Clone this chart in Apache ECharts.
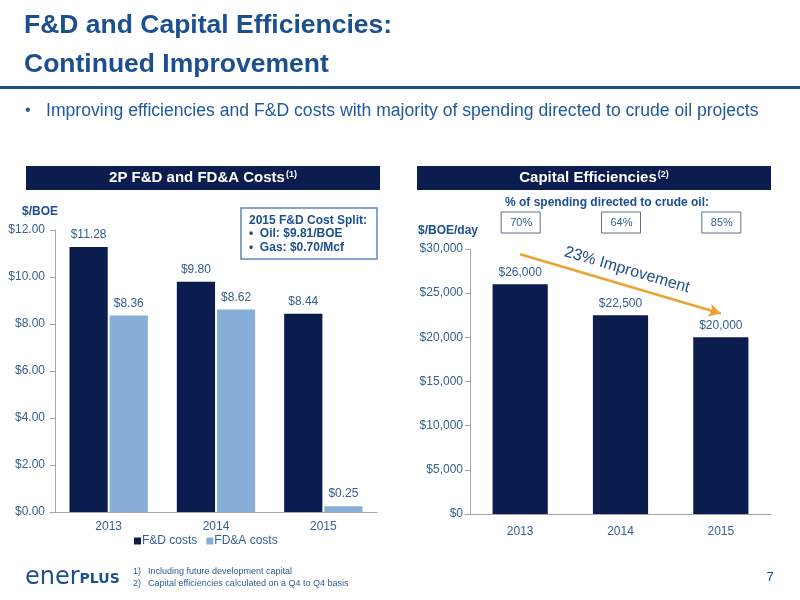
<!DOCTYPE html>
<html>
<head>
<meta charset="utf-8">
<script src="https://cdn.jsdelivr.net/npm/echarts@6/dist/echarts.min.js"></script>
<style>
html,body{margin:0;padding:0;background:#fff;}
#c{width:800px;height:600px;}
</style>
</head>
<body>
<div id="c"></div>
<script>
// ---- data ----
const years = ['2013', '2014', '2015'];
const fdCosts = [11.28, 9.80, 8.44];
const fdaCosts = [8.36, 8.62, 0.25];
const capEfficiency = [26000, 22500, 20000];
const oilShare = ['70%', '64%', '85%'];
const costAxis = { min: 0, max: 12, interval: 2 };
const capAxis = { min: 0, max: 30000, interval: 5000 };
const arrowFrom = 29400, arrowTo = 22700;

const NAVY = '#0b1d4f', LIGHT = '#86aed6', BLUE = '#1c4f8f', LBL = '#33608f', AXIS = '#a6a6a6';
const FONT = '"Liberation Sans", Arial, sans-serif';

const chart = echarts.init(document.getElementById('c'), null, { renderer: 'canvas' });

function txt(x, y, text, size, color, opts) {
  opts = opts || {};
  return {
    type: 'text', x: x, y: y, rotation: opts.rotation || 0, silent: true,
    style: {
      text: text, fill: color, textAlign: opts.align || 'left', textVerticalAlign: 'middle',
      font: (opts.bold ? 'bold ' : '') + size + 'px ' + (opts.family || FONT),
      rich: opts.rich
    }
  };
}

const option = {
  animation: false,
  textStyle: { fontFamily: FONT },
  grid: [
    { left: 55, top: 230, width: 322, bottom: 88 },
    { left: 470, top: 249, width: 301, bottom: 86 }
  ],
  legend: {
    data: ['F&D costs', 'FD&A costs'], left: 129, top: 530, icon: 'rect',
    itemWidth: 7, itemHeight: 7, itemGap: 9,
    textStyle: { color: LBL, fontSize: 12, padding: [0, 0, 0, -4] }
  },
  xAxis: [
    {
      type: 'category', gridIndex: 0, data: years,
      axisLine: { lineStyle: { color: AXIS } }, axisTick: { lineStyle: { color: AXIS }, length: 5 },
      axisLabel: { color: LBL, fontSize: 12, margin: 9 }
    },
    {
      type: 'category', gridIndex: 1, data: years,
      axisLine: { lineStyle: { color: AXIS } }, axisTick: { lineStyle: { color: AXIS }, length: 5 },
      axisLabel: { color: LBL, fontSize: 12, margin: 12 }
    }
  ],
  yAxis: [
    {
      type: 'value', gridIndex: 0, min: costAxis.min, max: costAxis.max, interval: costAxis.interval,
      axisLine: { show: true, lineStyle: { color: AXIS } },
      axisTick: { show: true, length: 5, lineStyle: { color: AXIS } },
      splitLine: { show: false },
      axisLabel: { color: LBL, fontSize: 12, margin: 10, formatter: v => '$' + v.toFixed(2) }
    },
    {
      type: 'value', gridIndex: 1, min: capAxis.min, max: capAxis.max, interval: capAxis.interval,
      axisLine: { show: true, lineStyle: { color: AXIS } },
      axisTick: { show: true, length: 5, lineStyle: { color: AXIS } },
      splitLine: { show: false },
      axisLabel: { color: LBL, fontSize: 12, margin: 7, formatter: v => '$' + v.toLocaleString('en-US') }
    }
  ],
  series: [
    {
      name: 'F&D costs', type: 'bar', xAxisIndex: 0, yAxisIndex: 0, data: fdCosts,
      itemStyle: { color: NAVY }, barGap: '5%', barCategoryGap: '27%',
      label: { show: true, position: 'top', color: LBL, fontSize: 12, distance: 6, formatter: p => '$' + p.value.toFixed(2) }
    },
    {
      name: 'FD&A costs', type: 'bar', xAxisIndex: 0, yAxisIndex: 0, data: fdaCosts,
      itemStyle: { color: LIGHT }, barGap: '5%', barCategoryGap: '27%',
      label: { show: true, position: 'top', color: LBL, fontSize: 12, distance: 6, formatter: p => '$' + p.value.toFixed(2) }
    },
    {
      name: 'Capital Efficiencies', type: 'bar', xAxisIndex: 1, yAxisIndex: 1, data: capEfficiency,
      itemStyle: { color: NAVY }, barCategoryGap: '45%',
      label: { show: true, position: 'top', color: LBL, fontSize: 12, distance: 6, formatter: p => '$' + p.value.toLocaleString('en-US') },
      markLine: {
        silent: true, symbol: ['none', 'arrow'], symbolSize: [10, 12],
        lineStyle: { color: '#eaa232', width: 2.5, type: 'solid' },
        label: { show: false },
        data: [[{ coord: [years[0], arrowFrom] }, { coord: [years[2], arrowTo] }]]
      }
    }
  ]
};
chart.setOption(option);

// ---- annotations ----
const g = [];
g.push(txt(24, 26, 'F&D and Capital Efficiencies:', 26.5, BLUE, { bold: true }));
g.push(txt(24, 65, 'Continued Improvement', 26.5, BLUE, { bold: true }));
g.push({ type: 'rect', shape: { x: 0, y: 86, width: 800, height: 3 }, style: { fill: '#1f4e8c' }, silent: true });
g.push(txt(25, 111, '•', 16, '#1f5aa0'));
g.push(txt(46, 111, 'Improving efficiencies and F&D costs with majority of spending directed to crude oil projects', 17.6, '#1f5aa0'));

// headers
g.push({ type: 'rect', shape: { x: 26, y: 166, width: 354, height: 24 }, style: { fill: NAVY }, silent: true });
g.push({ type: 'rect', shape: { x: 417, y: 166, width: 354, height: 24 }, style: { fill: NAVY }, silent: true });
const supRich = {
  h: { fontSize: 15, fontWeight: 'bold', color: '#fff', fontFamily: FONT },
  s: { fontSize: 9, fontWeight: 'bold', color: '#fff', fontFamily: FONT, verticalAlign: 'top', padding: [0, 0, 6, 1] }
};
g.push(txt(203, 178, '{h|2P F&D and FD&A Costs}{s|(1)}', 15, '#fff', { bold: true, align: 'center', rich: supRich }));
g.push(txt(594, 178, '{h|Capital Efficiencies}{s|(2)}', 15, '#fff', { bold: true, align: 'center', rich: supRich }));

// axis names
g.push(txt(22, 212, '$/BOE', 12, BLUE, { bold: true }));
g.push(txt(418, 231, '$/BOE/day', 12, BLUE, { bold: true }));

// text box
g.push({ type: 'rect', shape: { x: 241, y: 208, width: 136, height: 51 }, style: { fill: '#fff', stroke: '#5b86bd', lineWidth: 1.5 }, silent: true });
g.push(txt(249, 221, '2015 F&D Cost Split:', 12, BLUE, { bold: true }));
g.push(txt(249, 234, '•  Oil: $9.81/BOE', 12, BLUE, { bold: true }));
g.push(txt(249, 248, '•  Gas: $0.70/Mcf', 12, BLUE, { bold: true }));

// % of spending
g.push(txt(607, 203, '% of spending directed to crude oil:', 12, BLUE, { bold: true, align: 'center' }));
years.forEach((y, i) => {
  const px = chart.convertToPixel({ xAxisIndex: 1 }, y);
  g.push({ type: 'rect', shape: { x: px - 19, y: 212, width: 39, height: 21 }, style: { fill: '#fff', stroke: '#5a6f8f', lineWidth: 1 }, silent: true });
  g.push(txt(px + 1, 223, oilShare[i], 11, LBL, { align: 'center' }));
});

// improvement text
g.push(txt(627, 270, '23% Improvement', 16, BLUE, { align: 'center', rotation: -0.285 }));

// footer
g.push(txt(25, 578, '{a|ener}{b|PLUS}', 20, BLUE, {
  rich: {
    a: { fontSize: 24, color: '#1f4e8c', fontFamily: '"DejaVu Sans", sans-serif' },
    b: { fontSize: 14, fontWeight: 'bold', color: '#f0a820', fontFamily: '"DejaVu Sans", sans-serif', padding: [2, 0, 0, 0] }
  }
}));
g.push(txt(133, 572, '1)', 9, '#2f5d93'));
g.push(txt(148, 572, 'Including future development capital', 9, '#2f5d93'));
g.push(txt(133, 584, '2)', 9, '#2f5d93'));
g.push(txt(148, 584, 'Capital efficiencies calculated on a Q4 to Q4 basis', 9, '#2f5d93'));
g.push(txt(770, 577, '7', 13, BLUE, { align: 'center' }));

chart.setOption({ graphic: { elements: g } });
</script>
</body>
</html>
